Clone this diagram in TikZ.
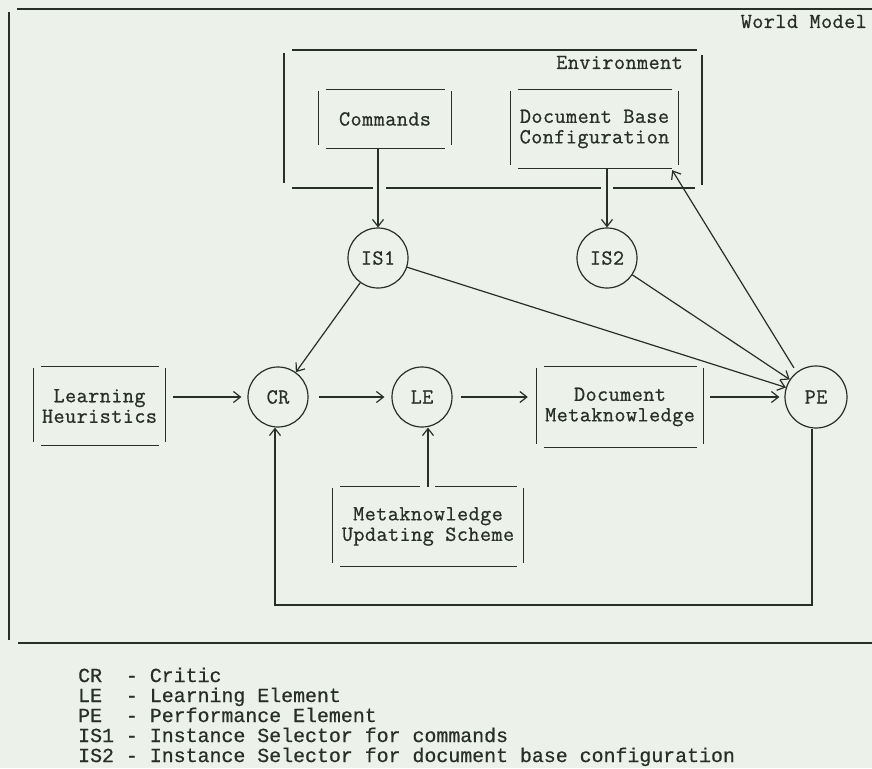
\documentclass[tikz,border=0pt]{standalone}
\usepackage{fontspec}
\newfontfamily\legfont{Liberation Mono}[FakeBold=0.6]
\newfontfamily\diafont{Latin Modern Mono}[FakeBold=0.8, LetterSpace=2.2]
\usetikzlibrary{arrows.meta}
\definecolor{paper}{RGB}{236,241,234}
\definecolor{ink}{RGB}{40,46,40}
\newcommand\dfont{\diafont\fontsize{21.5pt}{20.5pt}\selectfont}
\newcommand\lfont{\legfont\fontsize{19.9pt}{20pt}\selectfont}
\newcommand\tboxsides[1]{%
  \draw[ink line] ([yshift=-1pt]#1.north west) -- ([yshift=3pt]#1.south west);
  \draw[ink line] ([yshift=-1pt]#1.north east) -- ([yshift=3pt]#1.south east);
  \draw[ink line] ([xshift=7pt]#1.south west) -- ([xshift=-6pt]#1.south east);}
\newcommand\tboxtop[1]{%
  \draw[ink line] ([xshift=7pt]#1.north west) -- ([xshift=-6pt]#1.north east);}
\begin{document}
\begin{tikzpicture}[x=1pt,y=-1pt,
  ink line/.style={draw=ink, line width=1.2pt},
  arr/.style={ink line, -{Straight Barb[length=7pt,width=11pt]}},
  tbox/.style={inner sep=0pt, align=center, font=\dfont, text=ink},
  state/.style={circle, draw=ink, line width=1.2pt, minimum size=60pt, inner sep=0pt, font=\dfont, text=ink},
  lab/.style={inner sep=0pt, font=\dfont, text=ink, text height=14pt, text depth=0pt},
  leg/.style={inner sep=0pt, font=\lfont, text=ink, anchor=west, text height=14pt, text depth=4pt}
]
\fill[paper] (0,0) rectangle (872,768);
\useasboundingbox (0,0) rectangle (872,768);

% World Model frame
\draw[ink line] (17,9) -- (872,9);
\draw[ink line] (9,12) -- (9,640);
\draw[ink line] (18,643) -- (872,643);
\node[lab, anchor=east] (wm) at (867,21) {World Model};

% Environment frame
\draw[ink line] (284,53) -- (284,183);
\draw[ink line] (292,50) -- (697,50);
\draw[ink line] (702,55) -- (702,185);
\draw[ink line] (292,188) -- (373,188) (386,188) -- (601,188) (613,188) -- (695,188);
\node[lab, anchor=east] (envlab) at (683,62) {Environment};

% boxes
\node[tbox, minimum width=132pt, minimum height=58pt] (cmd) at (385,119) {Commands};
\node[tbox, minimum width=167pt, minimum height=78pt] (dbc) at (594.5,129) {Document Base\\Configuration};
\node[tbox, minimum width=131pt, minimum height=78pt] (lh) at (99.5,406) {Learning\\Heuristics};
\node[tbox, minimum width=166pt, minimum height=80pt] (dm) at (620,407) {Document\\Metaknowledge};
\node[tbox, minimum width=190pt, minimum height=79pt] (mus) at (428,526.5) {Metaknowledge\\Updating Scheme};
\tboxsides{cmd}\tboxtop{cmd}
\tboxsides{dbc}\tboxtop{dbc}
\tboxsides{lh}\tboxtop{lh}
\tboxsides{dm}\tboxtop{dm}
\tboxsides{mus}
\draw[ink line] ([xshift=7pt]mus.north west) -- ([xshift=-8pt]mus.north)
                ([xshift=7pt]mus.north) -- ([xshift=-6pt]mus.north east);

% circles
\node[state] (is1) at (378,258) {IS1};
\node[state] (is2) at (607,258) {IS2};
\node[state] (cr) at (278,397) {CR};
\node[state] (le) at (422,397) {LE};
\node[state, minimum size=62pt] (pe) at (816,397) {PE};

% connectors
\draw[arr] (cmd.south -| is1.north) -- (is1.north);
\draw[arr] (dbc.south -| is2.north) -- (is2.north);
\draw[arr] (is1) -- (cr);
\draw[arr] (is1) -- (pe);
\draw[arr] (is2) -- (pe);
\coordinate (dbccorner) at ([shift={(-6pt,-2pt)}]dbc.south east);
\draw[arr, shorten <=5pt] (pe.128) -- (dbccorner);
\coordinate (lhout) at (lh.east |- cr.west);
\draw[arr] ([xshift=8pt]lhout) -- ([xshift=-6pt]cr.west);
\draw[arr] ([xshift=10pt]cr.east) -- ([xshift=-7pt]le.west);
\coordinate (dmin) at (dm.west |- le.east);
\draw[arr] ([xshift=8pt]le.east) -- ([xshift=-9pt]dmin);
\coordinate (dmout) at (dm.east |- pe.west);
\draw[arr] ([xshift=7pt]dmout) -- ([xshift=-5pt]pe.west);
\draw[arr] (mus.north) -- (mus.north |- le.south);
\coordinate (loopbot) at (540,605);
\draw[arr] ([xshift=-4pt]pe.south) |- (loopbot) -| ([xshift=-3pt]cr.south);

% legend
\node[leg] (l1) at (78,677) {CR\hphantom{1} - Critic};
\node[leg] (l2) at (78,697) {LE\hphantom{1} - Learning Element};
\node[leg] (l3) at (78,717) {PE\hphantom{1} - Performance Element};
\node[leg] (l4) at (78,737) {IS1 - Instance Selector for commands};
\node[leg] (l5) at (78,757) {IS2 - Instance Selector for document base configuration};
\end{tikzpicture}
\end{document}
